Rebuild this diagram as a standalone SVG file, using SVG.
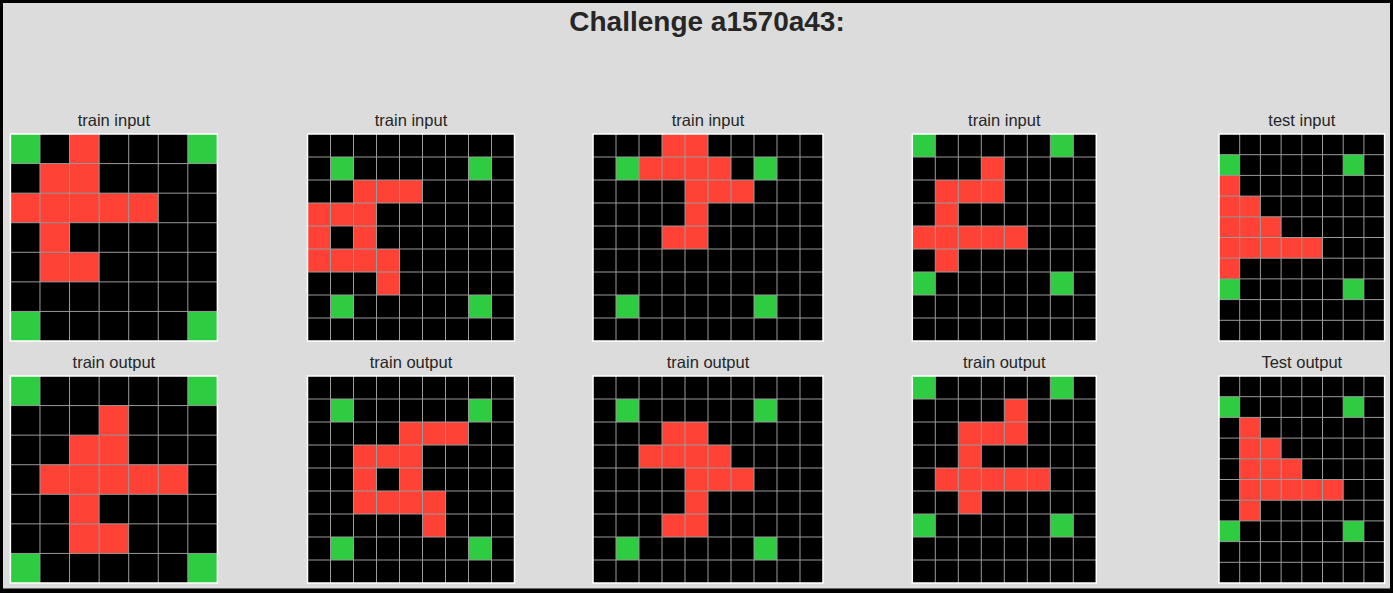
<svg xmlns="http://www.w3.org/2000/svg" width="1393" height="593" viewBox="0 0 1393 593">
<style>
.bg{fill:#000}
.r{fill:#FF4136}
.g{fill:#2ECC40}
.ln{fill:none;stroke:#9a9a9a;stroke-width:1;vector-effect:non-scaling-stroke}
.bd{fill:none;stroke:#fff;stroke-width:1.5;vector-effect:non-scaling-stroke}
.t{font-family:"Liberation Sans",Arial,sans-serif;font-size:16.5px;fill:#262626;text-anchor:middle}
.h{font-family:"Liberation Sans",Arial,sans-serif;font-size:28px;font-weight:bold;fill:#262626;text-anchor:middle}
</style>
<rect x="0" y="0" width="1393" height="593" fill="#000"/>
<rect x="3" y="3" width="1387" height="585.5" fill="#dcdcdc"/>
<text class="h" x="707" y="31">Challenge a1570a43:</text>

<g id="train-input-1">
<text class="t" x="113.9" y="126">train input</text>
<g transform="translate(10.4,134) scale(29.571)">
<rect class="bg" width="7" height="7"/>
<rect class="g" x="0" y="0" width="1" height="1"/><rect class="g" x="6" y="0" width="1" height="1"/><rect class="g" x="0" y="6" width="1" height="1"/><rect class="g" x="6" y="6" width="1" height="1"/>
<rect class="r" x="2" y="0" width="1" height="1"/><rect class="r" x="1" y="1" width="2" height="1"/><rect class="r" x="0" y="2" width="5" height="1"/><rect class="r" x="1" y="3" width="1" height="1"/><rect class="r" x="1" y="4" width="2" height="1"/>
<path class="ln" d="M1 0V7M2 0V7M3 0V7M4 0V7M5 0V7M6 0V7M0 1H7M0 2H7M0 3H7M0 4H7M0 5H7M0 6H7"/>
<rect class="bd" width="7" height="7"/>
</g>
</g>

<g id="train-output-1">
<text class="t" x="113.9" y="368">train output</text>
<g transform="translate(10.4,376) scale(29.571)">
<rect class="bg" width="7" height="7"/>
<rect class="g" x="0" y="0" width="1" height="1"/><rect class="g" x="6" y="0" width="1" height="1"/><rect class="g" x="0" y="6" width="1" height="1"/><rect class="g" x="6" y="6" width="1" height="1"/>
<rect class="r" x="3" y="1" width="1" height="1"/><rect class="r" x="2" y="2" width="2" height="1"/><rect class="r" x="1" y="3" width="5" height="1"/><rect class="r" x="2" y="4" width="1" height="1"/><rect class="r" x="2" y="5" width="2" height="1"/>
<path class="ln" d="M1 0V7M2 0V7M3 0V7M4 0V7M5 0V7M6 0V7M0 1H7M0 2H7M0 3H7M0 4H7M0 5H7M0 6H7"/>
<rect class="bd" width="7" height="7"/>
</g>
</g>

<g id="train-input-2">
<text class="t" x="411" y="126">train input</text>
<g transform="translate(307.5,134) scale(23)">
<rect class="bg" width="9" height="9"/>
<rect class="g" x="1" y="1" width="1" height="1"/><rect class="g" x="7" y="1" width="1" height="1"/><rect class="g" x="1" y="7" width="1" height="1"/><rect class="g" x="7" y="7" width="1" height="1"/>
<rect class="r" x="2" y="2" width="3" height="1"/><rect class="r" x="0" y="3" width="3" height="1"/><rect class="r" x="0" y="4" width="1" height="1"/><rect class="r" x="2" y="4" width="1" height="1"/><rect class="r" x="0" y="5" width="4" height="1"/><rect class="r" x="3" y="6" width="1" height="1"/>
<path class="ln" d="M1 0V9M2 0V9M3 0V9M4 0V9M5 0V9M6 0V9M7 0V9M8 0V9M0 1H9M0 2H9M0 3H9M0 4H9M0 5H9M0 6H9M0 7H9M0 8H9"/>
<rect class="bd" width="9" height="9"/>
</g>
</g>

<g id="train-output-2">
<text class="t" x="411" y="368">train output</text>
<g transform="translate(307.5,376) scale(23)">
<rect class="bg" width="9" height="9"/>
<rect class="g" x="1" y="1" width="1" height="1"/><rect class="g" x="7" y="1" width="1" height="1"/><rect class="g" x="1" y="7" width="1" height="1"/><rect class="g" x="7" y="7" width="1" height="1"/>
<rect class="r" x="4" y="2" width="3" height="1"/><rect class="r" x="2" y="3" width="3" height="1"/><rect class="r" x="2" y="4" width="1" height="1"/><rect class="r" x="4" y="4" width="1" height="1"/><rect class="r" x="2" y="5" width="4" height="1"/><rect class="r" x="5" y="6" width="1" height="1"/>
<path class="ln" d="M1 0V9M2 0V9M3 0V9M4 0V9M5 0V9M6 0V9M7 0V9M8 0V9M0 1H9M0 2H9M0 3H9M0 4H9M0 5H9M0 6H9M0 7H9M0 8H9"/>
<rect class="bd" width="9" height="9"/>
</g>
</g>

<g id="train-input-3">
<text class="t" x="708" y="126">train input</text>
<g transform="translate(593,134) scale(23)">
<rect class="bg" width="10" height="9"/>
<rect class="g" x="1" y="1" width="1" height="1"/><rect class="g" x="7" y="1" width="1" height="1"/><rect class="g" x="1" y="7" width="1" height="1"/><rect class="g" x="7" y="7" width="1" height="1"/>
<rect class="r" x="3" y="0" width="2" height="1"/><rect class="r" x="2" y="1" width="4" height="1"/><rect class="r" x="4" y="2" width="3" height="1"/><rect class="r" x="4" y="3" width="1" height="1"/><rect class="r" x="3" y="4" width="2" height="1"/>
<path class="ln" d="M1 0V9M2 0V9M3 0V9M4 0V9M5 0V9M6 0V9M7 0V9M8 0V9M9 0V9M0 1H10M0 2H10M0 3H10M0 4H10M0 5H10M0 6H10M0 7H10M0 8H10"/>
<rect class="bd" width="10" height="9"/>
</g>
</g>

<g id="train-output-3">
<text class="t" x="708" y="368">train output</text>
<g transform="translate(593,376) scale(23)">
<rect class="bg" width="10" height="9"/>
<rect class="g" x="1" y="1" width="1" height="1"/><rect class="g" x="7" y="1" width="1" height="1"/><rect class="g" x="1" y="7" width="1" height="1"/><rect class="g" x="7" y="7" width="1" height="1"/>
<rect class="r" x="3" y="2" width="2" height="1"/><rect class="r" x="2" y="3" width="4" height="1"/><rect class="r" x="4" y="4" width="3" height="1"/><rect class="r" x="4" y="5" width="1" height="1"/><rect class="r" x="3" y="6" width="2" height="1"/>
<path class="ln" d="M1 0V9M2 0V9M3 0V9M4 0V9M5 0V9M6 0V9M7 0V9M8 0V9M9 0V9M0 1H10M0 2H10M0 3H10M0 4H10M0 5H10M0 6H10M0 7H10M0 8H10"/>
<rect class="bd" width="10" height="9"/>
</g>
</g>

<g id="train-input-4">
<text class="t" x="1004.3" y="126">train input</text>
<g transform="translate(912.3,134) scale(23)">
<rect class="bg" width="8" height="9"/>
<rect class="g" x="0" y="0" width="1" height="1"/><rect class="g" x="6" y="0" width="1" height="1"/><rect class="g" x="0" y="6" width="1" height="1"/><rect class="g" x="6" y="6" width="1" height="1"/>
<rect class="r" x="3" y="1" width="1" height="1"/><rect class="r" x="1" y="2" width="3" height="1"/><rect class="r" x="1" y="3" width="1" height="1"/><rect class="r" x="0" y="4" width="5" height="1"/><rect class="r" x="1" y="5" width="1" height="1"/>
<path class="ln" d="M1 0V9M2 0V9M3 0V9M4 0V9M5 0V9M6 0V9M7 0V9M0 1H8M0 2H8M0 3H8M0 4H8M0 5H8M0 6H8M0 7H8M0 8H8"/>
<rect class="bd" width="8" height="9"/>
</g>
</g>

<g id="train-output-4">
<text class="t" x="1004.3" y="368">train output</text>
<g transform="translate(912.3,376) scale(23)">
<rect class="bg" width="8" height="9"/>
<rect class="g" x="0" y="0" width="1" height="1"/><rect class="g" x="6" y="0" width="1" height="1"/><rect class="g" x="0" y="6" width="1" height="1"/><rect class="g" x="6" y="6" width="1" height="1"/>
<rect class="r" x="4" y="1" width="1" height="1"/><rect class="r" x="2" y="2" width="3" height="1"/><rect class="r" x="2" y="3" width="1" height="1"/><rect class="r" x="1" y="4" width="5" height="1"/><rect class="r" x="2" y="5" width="1" height="1"/>
<path class="ln" d="M1 0V9M2 0V9M3 0V9M4 0V9M5 0V9M6 0V9M7 0V9M0 1H8M0 2H8M0 3H8M0 4H8M0 5H8M0 6H8M0 7H8M0 8H8"/>
<rect class="bd" width="8" height="9"/>
</g>
</g>

<g id="test-input">
<text class="t" x="1301.8" y="126">test input</text>
<g transform="translate(1219,134) scale(20.7)">
<rect class="bg" width="8" height="10"/>
<rect class="g" x="0" y="1" width="1" height="1"/><rect class="g" x="6" y="1" width="1" height="1"/><rect class="g" x="0" y="7" width="1" height="1"/><rect class="g" x="6" y="7" width="1" height="1"/>
<rect class="r" x="0" y="2" width="1" height="1"/><rect class="r" x="0" y="3" width="2" height="1"/><rect class="r" x="0" y="4" width="3" height="1"/><rect class="r" x="0" y="5" width="5" height="1"/><rect class="r" x="0" y="6" width="1" height="1"/>
<path class="ln" d="M1 0V10M2 0V10M3 0V10M4 0V10M5 0V10M6 0V10M7 0V10M0 1H8M0 2H8M0 3H8M0 4H8M0 5H8M0 6H8M0 7H8M0 8H8M0 9H8"/>
<rect class="bd" width="8" height="10"/>
</g>
</g>

<g id="test-output">
<text class="t" x="1301.8" y="368">Test output</text>
<g transform="translate(1219,376) scale(20.7)">
<rect class="bg" width="8" height="10"/>
<rect class="g" x="0" y="1" width="1" height="1"/><rect class="g" x="6" y="1" width="1" height="1"/><rect class="g" x="0" y="7" width="1" height="1"/><rect class="g" x="6" y="7" width="1" height="1"/>
<rect class="r" x="1" y="2" width="1" height="1"/><rect class="r" x="1" y="3" width="2" height="1"/><rect class="r" x="1" y="4" width="3" height="1"/><rect class="r" x="1" y="5" width="5" height="1"/><rect class="r" x="1" y="6" width="1" height="1"/>
<path class="ln" d="M1 0V10M2 0V10M3 0V10M4 0V10M5 0V10M6 0V10M7 0V10M0 1H8M0 2H8M0 3H8M0 4H8M0 5H8M0 6H8M0 7H8M0 8H8M0 9H8"/>
<rect class="bd" width="8" height="10"/>
</g>
</g>

<g id="connectors"></g>
</svg>
